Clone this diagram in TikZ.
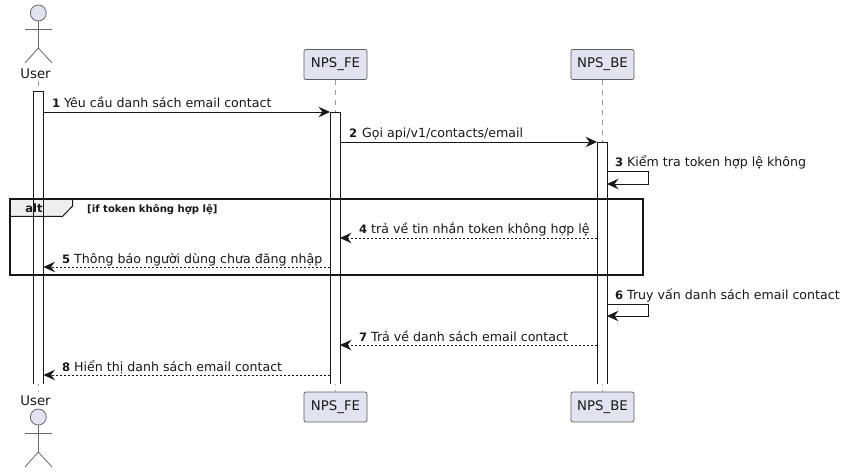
\documentclass[tikz,border=0pt]{standalone}
\usepackage{fontspec}
\setmainfont{DejaVu Sans}
\usetikzlibrary{arrows.meta}
\definecolor{ink}{HTML}{181818}
\definecolor{part}{HTML}{E2E2F0}
\definecolor{life}{HTML}{9A9A9A}
\definecolor{tabfill}{HTML}{EEEEEE}
\tikzset{
  x=1pt,y=-1pt,
  participant/.style={draw=ink!70,fill=part,rounded corners=2pt,line width=.7pt,minimum width=63pt,minimum height=30pt,inner sep=0,font=\fontsize{13.3}{15}\selectfont,text=ink},
  actorname/.style={inner sep=0,anchor=base,font=\fontsize{13.3}{15}\selectfont,text=ink},
  lifeline/.style={draw=life,line width=.7pt,dash pattern=on 5pt off 5pt},
  activation/.style={fill=white,minimum width=10pt,inner sep=0,outer sep=0},
  actedge/.style={draw=ink,line width=.9pt},
  actorline/.style={draw=ink!65,line width=.8pt},
  msg/.style={draw=ink,line width=.9pt,-{Stealth[length=11.5pt,width=10.5pt,inset=4pt]}},
  msgdash/.style={msg,dash pattern=on 2pt off 2pt},
  lab/.style={inner sep=0,anchor=base west,text=ink,font=\fontsize{12.6}{15}\selectfont},
  num/.style={inner sep=0,anchor=base west,text=ink,font=\fontsize{11.6}{14}\selectfont\bfseries},
  frameline/.style={draw=ink,line width=1.7pt},
}
\begin{document}
\begin{tikzpicture}
\useasboundingbox (0,0) rectangle (843,473);
\fill[white] (0,0) rectangle (843,473);
% lifelines
\coordinate (ut) at (38,81); \coordinate (ub) at (38,392);
\draw[lifeline] (ut) -- (ub);
\node[participant] (feT) at (335.5,64.5) {NPS\_FE};
\node[participant] (feB) at (335.5,407) {NPS\_FE};
\node[participant] (beT) at (602.5,64.5) {NPS\_BE};
\node[participant] (beB) at (602.5,407) {NPS\_BE};
\draw[lifeline] (feT) -- (feB);
\draw[lifeline] (beT) -- (beB);
% activations
\node[activation,minimum height=293pt] (aU) at (38.5,237.5) {};
\node[activation,minimum height=272pt] (aF) at (335,248) {};
\node[activation,minimum height=242pt] (aB) at (602,263) {};
% alt frame
\node[inner sep=0,minimum width=0] (altTL) at (10,199) {};
\node[inner sep=0] (altBR) at (643,275) {};
\filldraw[fill=tabfill,draw=ink,line width=1pt] (10,199) -- (72.6,199) -- (72.6,206) -- (62.5,216.5) -- (10,216.5) -- cycle;
\draw[frameline] (altTL) rectangle (altBR);
\node[inner sep=0,anchor=base,text=ink,font=\fontsize{11.5}{14}\selectfont\bfseries] (altname) at (34,213) {alt};
\node[inner sep=0,anchor=base west,text=ink,font=\fontsize{10.1}{12}\selectfont\bfseries] (altcond) at (87,212) {[if token không hợp lệ]};
% activation outlines over the tab, open at the foot
\draw[actedge] (aU.south west) -- (aU.north west) -- (aU.north east) -- (aU.south east);
\draw[actedge] (aF.south west) -- (aF.north west) -- (aF.north east) -- (aF.south east);
\draw[actedge] (aB.south west) -- (aB.north west) -- (aB.north east) -- (aB.south east);
% actors
\node[circle,draw=ink!65,fill=part,line width=.8pt,minimum size=16pt,inner sep=0] (headT) at (38.3,13) {};
\coordinate (hipT) at (38.3,48);
\draw[actorline] (headT.south) -- (hipT);
\draw[actorline] (25,29) -- (52,29);
\draw[actorline] (25,63) -- (hipT) -- (52,63);
\node[actorname] (userT) at (35.5,79) {User};
\node[circle,draw=ink!65,fill=part,line width=.8pt,minimum size=16pt,inner sep=0] (headB) at (38.3,417) {};
\coordinate (hipB) at (38.3,452);
\draw[actorline] (headB.south) -- (hipB);
\draw[actorline] (25,433) -- (52,433);
\draw[actorline] (25,467) -- (hipB) -- (52,467);
\node[actorname] (userB) at (35.5,405.5) {User};
% messages
\coordinate (m1) at (0,112); \coordinate (m2) at (0,142);
\coordinate (m4) at (0,238); \coordinate (m5) at (0,267);
\coordinate (m7) at (0,345); \coordinate (m8) at (0,375);
\coordinate (s3) at (648,171); \coordinate (s3b) at (648,184);
\coordinate (s6) at (648,304); \coordinate (s6b) at (648,316);
\draw[msg] (aU.east |- m1) -- (aF.west |- m1);
\draw[msg] (aF.east |- m2) -- (aB.west |- m2);
\draw[msg] (aB.east |- s3) -- (s3) -- (s3b) -- (aB.east |- s3b);
\draw[msgdash] (aB.west |- m4) -- (aF.east |- m4);
\draw[msgdash] (aF.west |- m5) -- (aU.east |- m5);
\draw[msg] (aB.east |- s6) -- (s6) -- (s6b) -- (aB.east |- s6b);
\draw[msgdash] (aB.west |- m7) -- (aF.east |- m7);
\draw[msgdash] (aF.west |- m8) -- (aU.east |- m8);
% labels
\node[num] (n1) at (52,108) {1}; \node[lab] (l1) at (64,108) {Yêu cầu danh sách email contact};
\node[num] (n2) at (349,137.5) {2}; \node[lab] (l2) at (362,137.5) {Gọi api/v1/contacts/email};
\node[num] (n3) at (615,167) {3}; \node[lab] (l3) at (627,167) {Kiểm tra token hợp lệ không};
\node[num] (n4) at (359,233.5) {4}; \node[lab] (l4) at (371,233.5) {trả về tin nhắn token không hợp lệ};
\node[num] (n5) at (62,263.5) {5}; \node[lab] (l5) at (74,263.5) {Thông báo người dùng chưa đăng nhập};
\node[num] (n6) at (615,299.5) {6}; \node[lab] (l6) at (627,299.5) {Truy vấn danh sách email contact};
\node[num] (n7) at (359,341.5) {7}; \node[lab] (l7) at (371,341.5) {Trả về danh sách email contact};
\node[num] (n8) at (62,371.5) {8}; \node[lab] (l8) at (74,371.5) {Hiển thị danh sách email contact};
\end{tikzpicture}
\end{document}
